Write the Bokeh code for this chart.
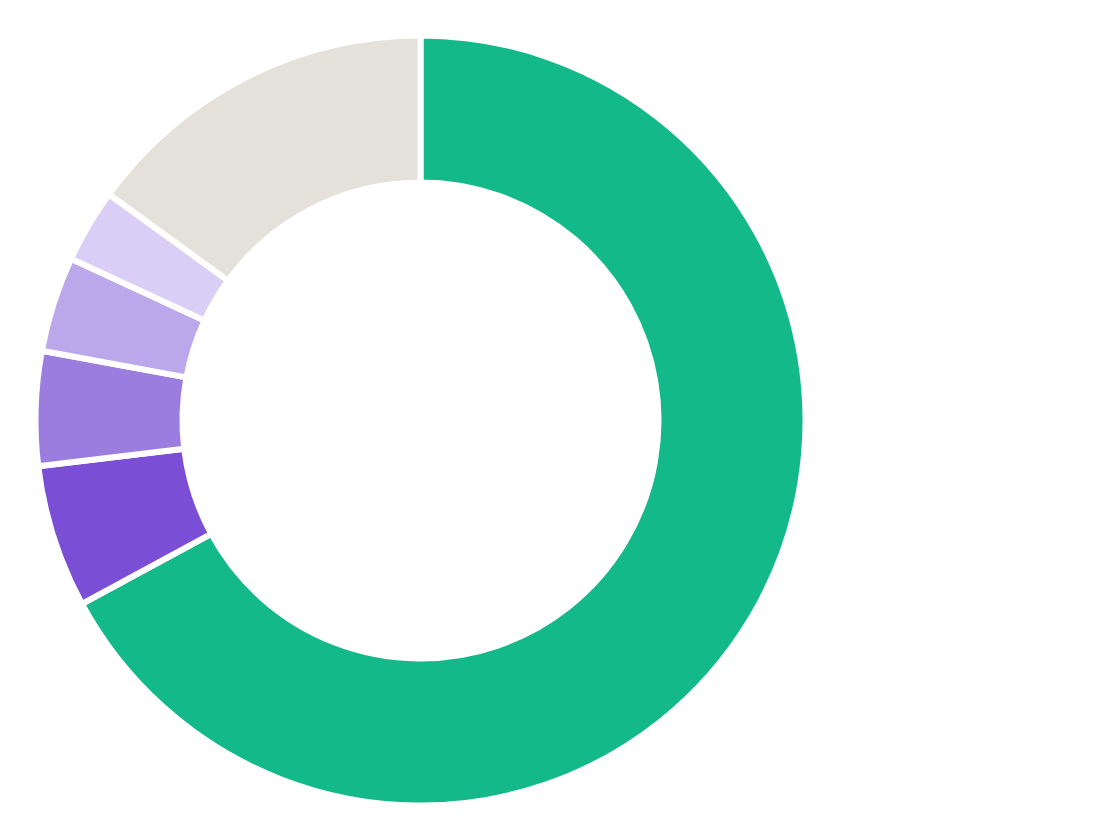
import math
from bokeh.plotting import figure
from bokeh.models import Range1d, ColumnDataSource
from bokeh.embed import file_html
from bokeh.resources import INLINE

# Data (clockwise from 12 o'clock)
categories = ["A", "B", "C", "D", "E", "F"]
values = [67.1, 6.0, 4.8, 4.0, 3.1, 15.0]
colors = ["#14B98A", "#7A4FD5", "#9B7CDF", "#BBA8EA", "#D9CEF5", "#E3E1D9"]

W, H = 1104, 824
CX, CY = 420, H - 420
R_OUT, R_IN = 385, 238

total = sum(values)
starts, ends = [], []
cum = 0.0
for v in values:
    starts.append(math.pi / 2 - 2 * math.pi * cum / total)
    cum += v
    ends.append(math.pi / 2 - 2 * math.pi * cum / total)

src = ColumnDataSource(dict(cat=categories, val=values, color=colors,
                            start=starts, end=ends))

p = figure(width=W, height=H, output_backend="svg", toolbar_location=None,
           x_range=Range1d(0, W), y_range=Range1d(0, H), min_border=0)
p.axis.visible = False
p.grid.visible = False
p.outline_line_color = None
p.background_fill_color = "white"
p.border_fill_color = "white"

p.annular_wedge(x=CX, y=CY, inner_radius=R_IN, outer_radius=R_OUT,
                start_angle="start", end_angle="end", direction="clock",
                fill_color="color", line_color="white", line_width=6,
                source=src)

open("out.html", "w").write(file_html(p, INLINE))
